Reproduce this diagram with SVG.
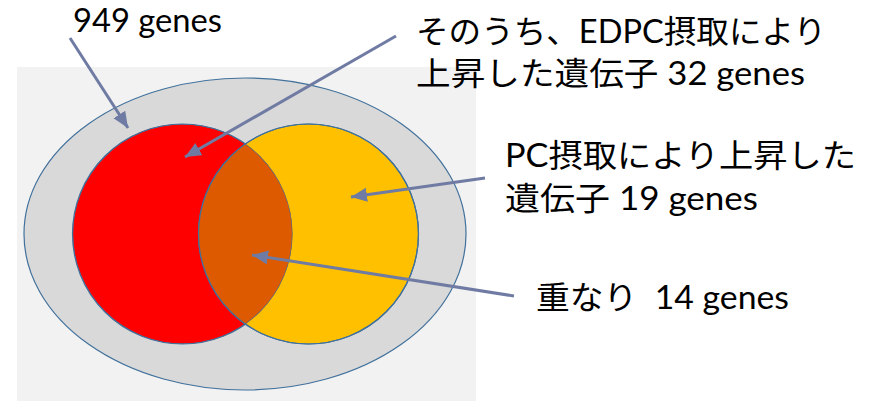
<svg xmlns="http://www.w3.org/2000/svg" width="873" height="401" viewBox="0 0 873 401">
<style>
.t{font-family:"Lato","Noto Sans CJK JP",sans-serif;font-size:32px;fill:#000}
.sh{stroke:#41719C;stroke-width:1.2}
.a{stroke:#6F7BA2;stroke-width:3;fill:none;marker-end:url(#ah)}
</style>
<defs>
<marker id="ah" markerUnits="userSpaceOnUse" markerWidth="20" markerHeight="16" refX="16" refY="7" orient="auto">
<path d="M0,0 L16,7 L0,14 Z" fill="#6F7BA2"/>
</marker>
<clipPath id="redc"><circle cx="182.5" cy="234" r="110"/></clipPath>
</defs>
<rect width="873" height="401" fill="#fff"/>
<rect x="17" y="67" width="459" height="334" fill="#F2F2F2"/>
<g id="all">
<ellipse cx="245" cy="234" rx="221" ry="156" fill="#D9D9D9" class="sh"/>
</g>
<g id="edpc">
<circle cx="182.5" cy="234" r="110" fill="#FF0000" class="sh"/>
</g>
<g id="pc">
<circle cx="308.5" cy="234" r="110" fill="#FFC000" class="sh"/>
</g>
<g id="overlap">
<circle cx="308.5" cy="234" r="110" fill="#DD5A00" clip-path="url(#redc)"/>
<circle cx="182.5" cy="234" r="110" fill="none" class="sh" clip-path="url(#redc)"/>
<circle cx="308.5" cy="234" r="110" fill="none" class="sh"/>
</g>
<g id="connectors">
<line x1="70" y1="38" x2="128" y2="128" class="a"/>
<line x1="396" y1="36" x2="185" y2="157" class="a"/>
<line x1="485" y1="178" x2="351" y2="197" class="a"/>
<line x1="514" y1="296" x2="252" y2="255" class="a"/>
</g>
<g id="labels">
<text class="t" x="73" y="32" textLength="149" lengthAdjust="spacingAndGlyphs">949 genes</text>
<text class="t" x="416" y="43" textLength="410" lengthAdjust="spacingAndGlyphs">そのうち、EDPC摂取により</text>
<text class="t" x="416" y="85" textLength="389" lengthAdjust="spacingAndGlyphs">上昇した遺伝子 32 genes</text>
<text class="t" x="505" y="167" textLength="351" lengthAdjust="spacingAndGlyphs">PC摂取により上昇した</text>
<text class="t" x="505" y="210" textLength="253" lengthAdjust="spacingAndGlyphs">遺伝子 19 genes</text>
<text class="t" x="536" y="309" textLength="253" lengthAdjust="spacingAndGlyphs">重なり&#160; 14 genes</text>
</g>
</svg>
